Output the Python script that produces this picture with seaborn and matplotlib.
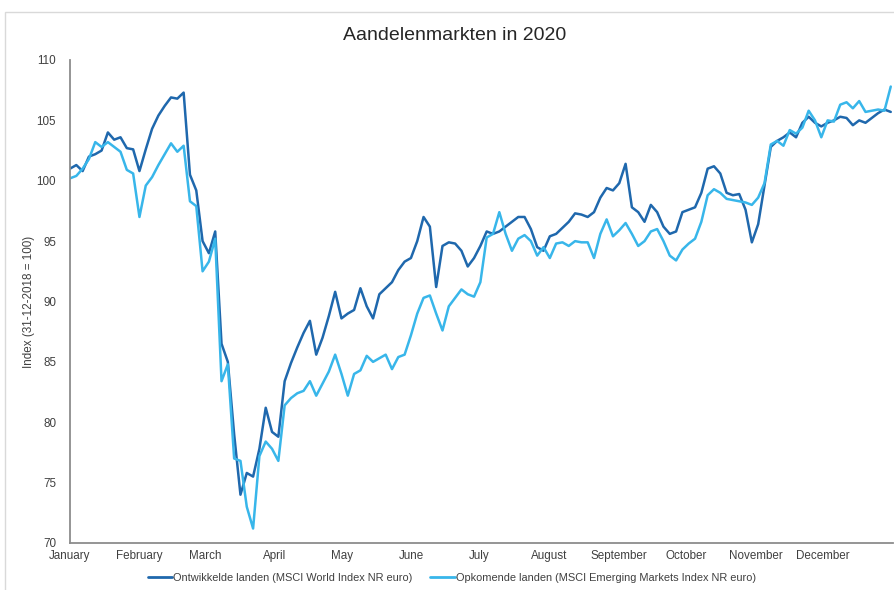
import numpy as np
import pandas as pd
import matplotlib
matplotlib.use("Agg")
import matplotlib.pyplot as plt
from matplotlib.patches import Rectangle
import seaborn as sns

title = "Aandelenmarkten in 2020"
y_label = "Index (31-12-2018 = 100)"
series_names = ["Ontwikkelde landen (MSCI World Index NR euro)",
                "Opkomende landen (MSCI Emerging Markets Index NR euro)"]
month_labels = ["January", "February", "March", "April", "May", "June", "July",
                "August", "September", "October", "November", "December"]

developed = [
    101.0, 101.3, 100.8, 102.0, 102.2, 102.5, 104.0, 103.4, 103.6, 102.7,
    102.6, 100.8, 102.6, 104.3, 105.4, 106.2, 106.9, 106.8, 107.3, 100.5,
    99.2, 95.0, 94.0, 95.8, 86.5, 85.0, 79.0, 74.0, 75.8, 75.5,
    77.8, 81.2, 79.2, 78.8, 83.4, 84.9, 86.2, 87.4, 88.4, 85.6,
    87.0, 88.8, 90.8, 88.6, 89.0, 89.3, 91.1, 89.6, 88.6, 90.6,
    91.1, 91.6, 92.6, 93.3, 93.6, 95.0, 97.0, 96.2, 91.2, 94.6,
    94.9, 94.8, 94.2, 92.9, 93.6, 94.6, 95.8, 95.6, 95.8, 96.2,
    96.6, 97.0, 97.0, 96.0, 94.5, 94.2, 95.4, 95.6, 96.1, 96.6,
    97.3, 97.2, 97.0, 97.4, 98.6, 99.4, 99.2, 99.8, 101.4, 97.8,
    97.4, 96.6, 98.0, 97.4, 96.2, 95.6, 95.8, 97.4, 97.6, 97.8,
    99.0, 101.0, 101.2, 100.6, 99.0, 98.8, 98.9, 97.6, 94.9, 96.4,
    99.6, 102.8, 103.3, 103.6, 104.0, 103.6, 104.8, 105.3, 104.8, 104.5,
    104.8, 105.0, 105.3, 105.2, 104.6, 105.0, 104.8, 105.2, 105.6, 105.9,
    105.7,
]
emerging = [
    100.2, 100.4, 101.0, 101.8, 103.2, 102.8, 103.2, 102.8, 102.4, 100.9,
    100.6, 97.0, 99.6, 100.3, 101.3, 102.2, 103.1, 102.4, 102.9, 98.3,
    97.9, 92.5, 93.3, 95.2, 83.4, 84.8, 77.0, 76.8, 73.0, 71.2,
    77.2, 78.4, 77.8, 76.8, 81.4, 82.0, 82.4, 82.6, 83.4, 82.2,
    83.2, 84.2, 85.6, 84.0, 82.2, 84.0, 84.3, 85.5, 85.0, 85.3,
    85.6, 84.4, 85.4, 85.6, 87.2, 89.0, 90.3, 90.5, 89.0, 87.6,
    89.6, 90.3, 91.0, 90.6, 90.4, 91.6, 95.3, 95.6, 97.4, 95.6,
    94.2, 95.2, 95.5, 95.0, 93.8, 94.5, 93.6, 94.8, 94.9, 94.6,
    95.0, 94.9, 94.9, 93.6, 95.6, 96.8, 95.4, 95.9, 96.5, 95.6,
    94.6, 95.0, 95.8, 96.0, 95.0, 93.8, 93.4, 94.3, 94.8, 95.2,
    96.6, 98.8, 99.3, 99.0, 98.5, 98.4, 98.3, 98.2, 98.0, 98.6,
    99.8, 103.0, 103.3, 102.9, 104.2, 103.9, 104.4, 105.8, 105.0, 103.6,
    105.0, 104.9, 106.3, 106.5, 106.0, 106.6, 105.7, 105.8, 105.9, 105.8,
    107.8,
]

dates = pd.date_range("2020-01-01", "2020-12-31", periods=len(developed))
df = pd.concat([
    pd.DataFrame({"date": dates, "value": developed, "series": series_names[0]}),
    pd.DataFrame({"date": dates, "value": emerging, "series": series_names[1]}),
])

sns.set_style("white")
plt.rcParams["font.family"] = ["Liberation Sans", "DejaVu Sans"]

fig = plt.figure(figsize=(8.94, 5.90), dpi=100)
ax = fig.add_axes([70 / 894, 1 - 543 / 590, 823 / 894, (543 - 60) / 590])

palette = {series_names[0]: "#1f68ad", series_names[1]: "#38b6ea"}
sns.lineplot(data=df, x="date", y="value", hue="series", palette=palette,
             linewidth=1.8, ax=ax, legend=False)

ax.set_xlim(pd.Timestamp("2020-01-01"), pd.Timestamp("2021-01-01"))
ax.set_ylim(70, 110)
ax.set_yticks(np.arange(70, 111, 5))
ax.yaxis.set_major_formatter(matplotlib.ticker.FormatStrFormatter("%d"))
month_starts = pd.date_range("2020-01-01", periods=12, freq="MS")
ax.set_xticks(month_starts)
ax.set_xticklabels(month_labels)
ax.tick_params(axis="both", length=0, labelsize=8.4, labelcolor="#404040")
ax.tick_params(axis="y", pad=10)
ax.tick_params(axis="x", pad=5)
ax.set_xlabel("")
ax.set_ylabel(y_label, fontsize=8.4, color="#404040", labelpad=1)

for side in ["top", "right"]:
    ax.spines[side].set_visible(False)
for side in ["left", "bottom"]:
    ax.spines[side].set_color("#8c8c8c")
    ax.spines[side].set_linewidth(1.3)

fig.text(455 / 894, 1 - 35 / 590, title, ha="center", va="center",
         fontsize=14, color="#262626")

handles = [plt.Line2D([0], [0], color=palette[n], lw=2) for n in series_names]
fig.legend(handles, series_names, loc="center", ncol=2,
           bbox_to_anchor=(452 / 894, 1 - 578 / 590), frameon=False,
           fontsize=7.9, handlelength=2.2, handletextpad=0.1,
           columnspacing=1.6, labelcolor="#404040")

fig.patches.append(Rectangle((5 / 894, -0.05), 1.0, 1 - 12 / 590 + 0.05,
                             transform=fig.transFigure, fill=False,
                             edgecolor="#d9d9d9", linewidth=1.0))

fig.savefig("out.png", dpi=100)
